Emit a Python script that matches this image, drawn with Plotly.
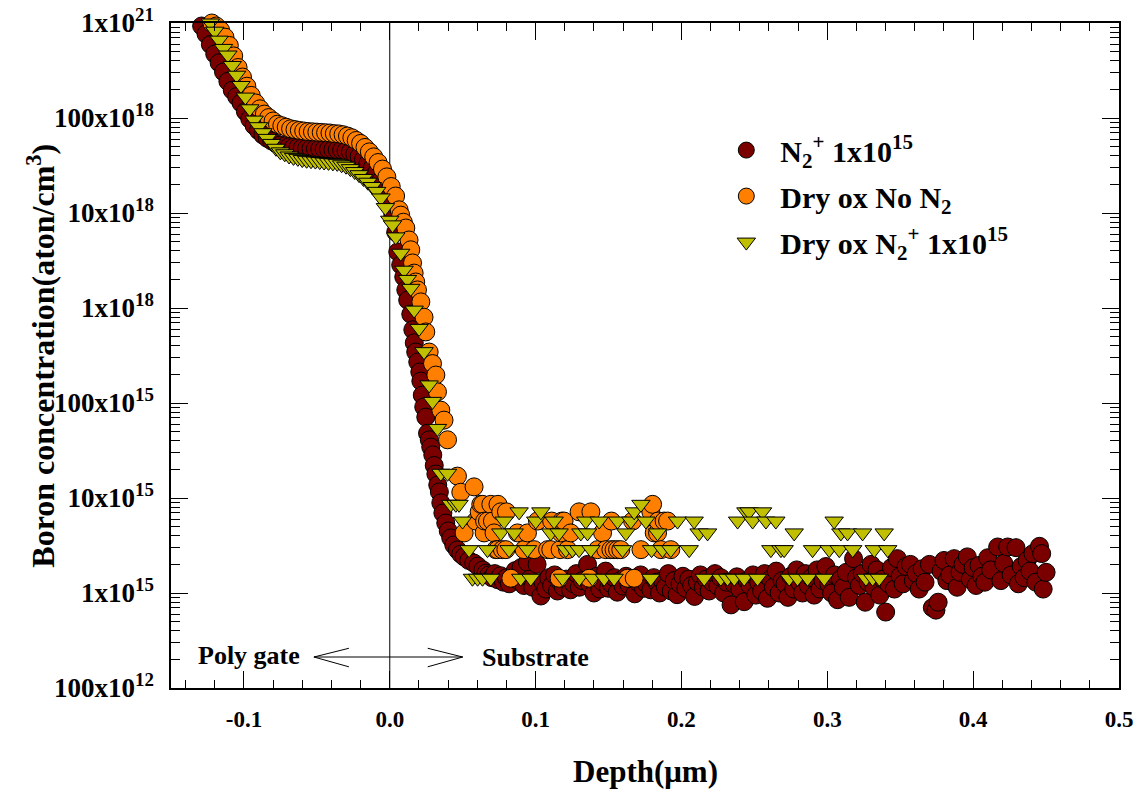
import plotly.graph_objects as go

# ---------------------------------------------------------------------------
# SIMS boron depth profiles (depth in µm, concentration in atoms/cm^3)
# ---------------------------------------------------------------------------

# N2+ 1x10^15 implant
n2_depth = [
    -0.129, -0.126, -0.123, -0.120, -0.117, -0.114, -0.111, -0.108, -0.105, -0.102,
    -0.099, -0.096, -0.093, -0.090, -0.087, -0.084, -0.081, -0.078, -0.075, -0.072,
    -0.069, -0.066, -0.063, -0.060, -0.057, -0.054, -0.051, -0.048, -0.045, -0.042,
    -0.039, -0.036, -0.033, -0.030, -0.027, -0.024, -0.021, -0.018, -0.015, -0.012,
    -0.009, -0.006, -0.003, 0.000,
    0.0021, 0.0041, 0.0055, 0.0075, 0.0096, 0.0110, 0.0123, 0.0144, 0.0158, 0.0168,
    0.0178, 0.0192, 0.0206, 0.0213, 0.0223, 0.0233, 0.0247, 0.0259, 0.0271, 0.0281,
    0.0295, 0.0305, 0.0316, 0.0329, 0.0340, 0.0350, 0.0364, 0.0384, 0.0401, 0.0418,
    0.0439, 0.0464, 0.0487, 0.0510, 0.0542, 0.0576, 0.0604, 0.0638,
    0.066, 0.068, 0.070, 0.072, 0.074, 0.076, 0.078, 0.080, 0.082, 0.084,
    0.086, 0.088, 0.090, 0.092, 0.0944, 0.096, 0.098, 0.101, 0.1036, 0.105,
    0.107, 0.109, 0.111, 0.113, 0.115, 0.117, 0.119, 0.121, 0.124, 0.126,
    0.128, 0.130, 0.132, 0.1356, 0.137, 0.140, 0.142, 0.144, 0.146, 0.148,
    0.150, 0.152, 0.154, 0.156, 0.158, 0.160, 0.162, 0.164, 0.166, 0.168,
    0.170, 0.172, 0.174, 0.176, 0.179, 0.181, 0.183, 0.185, 0.187, 0.189,
    0.191, 0.193, 0.195, 0.197, 0.199, 0.201, 0.203, 0.205, 0.207, 0.209,
    0.211, 0.213, 0.215, 0.217, 0.219, 0.221, 0.223, 0.225, 0.227, 0.229,
    0.231, 0.234, 0.236, 0.238, 0.240, 0.243, 0.245, 0.247, 0.249, 0.251,
    0.253, 0.255, 0.257, 0.259, 0.261, 0.263, 0.265, 0.267, 0.269, 0.271,
    0.273, 0.275, 0.277, 0.279, 0.281, 0.283, 0.285, 0.287, 0.289, 0.291,
    0.293, 0.295, 0.297, 0.299, 0.301, 0.303, 0.305, 0.307, 0.309, 0.311,
    0.313, 0.315, 0.318, 0.320, 0.322, 0.324, 0.326, 0.328, 0.330, 0.332,
    0.334, 0.336, 0.338, 0.340, 0.342, 0.344, 0.346, 0.348, 0.350, 0.352,
    0.354, 0.357, 0.359, 0.361, 0.363, 0.365, 0.367, 0.370, 0.372, 0.3745,
    0.376, 0.378, 0.380, 0.382, 0.384, 0.387, 0.389, 0.391, 0.393, 0.396,
    0.398, 0.400, 0.402, 0.404, 0.406, 0.408, 0.410, 0.412, 0.4168, 0.419,
    0.421, 0.4237, 0.426, 0.4294, 0.431, 0.433, 0.435, 0.437, 0.439, 0.441,
    0.443, 0.4455, 0.447, 0.448, 0.450,
]
n2_conc = [
    9.3e20, 7.66e20, 5.94e20, 4.72e20, 3.81e20, 3.06e20, 2.43e20, 1.96e20, 1.68e20, 1.44e20,
    1.17e20, 9.75e19, 8.3e19, 7.37e19, 6.62e19, 6.11e19, 5.73e19, 5.39e19, 5.2e19, 5.1e19,
    4.99e19, 4.92e19, 4.88e19, 4.83e19, 4.8e19, 4.77e19, 4.75e19, 4.72e19, 4.7e19, 4.68e19,
    4.65e19, 4.62e19, 4.6e19, 4.5e19, 4.4e19, 4.19e19, 3.94e19, 3.66e19, 3.34e19, 2.99e19,
    2.66e19, 2.2e19, 1.75e19, 1.27e19,
    9.5e18, 6.3e18, 3.9e18, 2.84e18, 2.12e18, 1.55e18, 1.21e18, 8.6e17, 5.9e17, 4.3e17,
    3.44e17, 2.7e17, 2.12e17, 1.7e17, 1.21e17, 9.1e16, 7.1e16, 4.8e16, 4.1e16, 3.44e16,
    2.84e16, 2.2e16, 1.79e16, 1.37e16, 1.16e16, 8.9e15, 6.95e15, 5.45e15, 4.5e15, 3.8e15,
    3.2e15, 2.84e15, 2.57e15, 2.4e15, 2.2e15, 2.07e15, 1.92e15, 1.75e15,
    1.62e15, 1.55e15, 1.45e15, 1.6e15, 1.38e15, 1.52e15, 1.3e15, 1.45e15, 1.25e15, 1.5e15,
    1.72e15, 1.35e15, 1.85e15, 1.2e15, 2.1e15, 1.4e15, 1.15e15, 2.0e15, 0.93e15, 1.3e15,
    1.1e15, 1.45e15, 1.2e15, 1.55e15, 1.05e15, 1.3e15, 1.15e15, 1.4e15, 1.08e15, 1.25e15,
    1.6e15, 1.15e15, 1.35e15, 2.0e15, 1.25e15, 1.0e15, 1.5e15, 1.1e15, 1.3e15, 1.7e15,
    1.12e15, 1.25e15, 1.45e15, 1.02e15, 1.35e15, 1.18e15, 1.5e15, 1.22e15, 1.4e15, 0.98e15,
    1.3e15, 1.55e15, 1.12e15, 1.25e15, 1.08e15, 1.45e15, 1.3e15, 1.0e15, 1.35e15, 1.15e15,
    1.6e15, 1.05e15, 1.35e15, 0.96e15, 1.25e15, 1.5e15, 1.12e15, 1.4e15, 1.2e15, 0.92e15,
    1.3e15, 1.55e15, 1.15e15, 1.4e15, 1.05e15, 1.3e15, 1.6e15, 1.18e15, 1.45e15, 1.0e15,
    1.3e15, 0.75e15, 1.25e15, 1.48e15, 1.1e15, 0.81e15, 1.35e15, 1.2e15, 1.55e15, 0.95e15,
    1.3e15, 1.05e15, 1.6e15, 0.88e15, 1.4e15, 1.15e15, 1.7e15, 1.0e15, 1.35e15, 1.25e15,
    0.9e15, 1.5e15, 1.1e15, 1.75e15, 1.3e15, 1.0e15, 1.6e15, 1.2e15, 1.45e15, 0.95e15,
    1.75e15, 1.1e15, 1.35e15, 1.9e15, 1.25e15, 1.0e15, 1.55e15, 0.85e15, 1.4e15, 1.15e15,
    1.65e15, 0.9e15, 2.3e15, 1.45e15, 1.2e15, 1.6e15, 0.8e15, 1.3e15, 2.0e15, 1.15e15,
    1.75e15, 0.95e15, 1.4e15, 0.63e15, 1.25e15, 1.85e15, 1.1e15, 2.3e15, 1.5e15, 1.25e15,
    1.9e15, 2.0e15, 1.35e15, 1.6e15, 1.1e15, 1.8e15, 1.3e15, 2.0e15, 0.7e15, 0.66e15,
    0.8e15, 1.7e15, 2.2e15, 1.35e15, 1.55e15, 2.3e15, 1.15e15, 1.65e15, 2.0e15, 2.4e15,
    1.4e15, 1.85e15, 1.2e15, 1.95e15, 1.5e15, 1.3e15, 2.35e15, 1.75e15, 3.05e15, 1.35e15,
    2.05e15, 3.05e15, 1.55e15, 3.0e15, 1.25e15, 1.9e15, 1.45e15, 2.2e15, 1.7e15, 2.6e15,
    1.3e15, 3.1e15, 2.6e15, 1.1e15, 1.65e15,
]

# Dry oxidation, no N2
dry_depth = [
    -0.122, -0.119, -0.116, -0.113, -0.110, -0.107, -0.104, -0.101, -0.098, -0.095,
    -0.092, -0.089, -0.086, -0.083, -0.080, -0.077, -0.074, -0.071, -0.068, -0.065,
    -0.062, -0.059, -0.056, -0.053, -0.050, -0.047, -0.044, -0.041, -0.038, -0.035,
    -0.032, -0.029, -0.026, -0.023, -0.020, -0.017, -0.014, -0.011, -0.008, -0.005,
    -0.002, 0.001, 0.004,
    0.0064, 0.0075, 0.0093, 0.0110, 0.0132, 0.0144, 0.0156, 0.0167, 0.0178, 0.0190,
    0.0213, 0.0235, 0.0247, 0.0270, 0.0293, 0.0316, 0.0327, 0.0350, 0.0372, 0.0396,
    0.0464, 0.0487, 0.0510, 0.0578, 0.0590, 0.0613, 0.0624, 0.0636, 0.0647, 0.0650,
    0.0670, 0.0693, 0.0704, 0.0715, 0.0727, 0.0739, 0.0742, 0.0761, 0.0772, 0.0796,
    0.0800, 0.0830, 0.0876, 0.0921, 0.0944, 0.0990, 0.1013, 0.1082, 0.1104, 0.1110,
    0.1161, 0.1168, 0.1173, 0.1180, 0.1195, 0.1219, 0.1241, 0.1298, 0.1367, 0.1379,
    0.1425, 0.1459, 0.1481, 0.1516, 0.1520, 0.1538, 0.1562, 0.1584, 0.1630, 0.1665,
    0.1676, 0.1722, 0.1790, 0.1802, 0.1813, 0.1836, 0.1840, 0.1859, 0.1881, 0.1905,
    0.1927,
]
dry_conc = [
    1.0e21, 9.3e20, 8.4e20, 7.1e20, 5.8e20, 4.5e20, 3.4e20, 2.7e20, 2.16e20, 1.73e20,
    1.44e20, 1.25e20, 1.1e20, 1.01e20, 9.3e19, 8.6e19, 8.3e19, 8.0e19, 7.7e19, 7.55e19,
    7.4e19, 7.3e19, 7.2e19, 7.15e19, 7.1e19, 7.05e19, 7.0e19, 6.95e19, 6.85e19, 6.8e19,
    6.67e19, 6.46e19, 6.2e19, 5.8e19, 5.4e19, 4.9e19, 4.4e19, 3.9e19, 3.4e19, 2.9e19,
    2.4e19, 1.9e19, 1.51e19,
    1.08e19, 9.5e18, 8.0e18, 6.95e18, 5.2e18, 4.1e18, 2.98e18, 2.33e18, 1.88e18, 1.55e18,
    1.16e18, 8.0e17, 5.6e17, 3.44e17, 2.6e17, 1.97e17, 1.31e17, 8.4e16, 6.6e16, 4.1e16,
    1.7e16, 1.15e16, 4.29e15, 1.31e16, 5.72e15, 7.15e15, 8.58e15, 8.58e15, 4.29e15, 5.72e15,
    5.72e15, 8.58e15, 5.72e15, 4.29e15, 2.86e15, 2.86e15, 8.58e15, 7.15e15, 2.86e15, 2.86e15,
    7.15e15, 1.43e15, 4.29e15, 2.86e15, 4.29e15, 2.86e15, 5.72e15, 2.86e15, 2.86e15, 5.72e15,
    1.43e15, 2.86e15, 4.29e15, 5.72e15, 5.72e15, 2.86e15, 4.29e15, 7.15e15, 1.43e15, 7.15e15,
    2.86e15, 4.29e15, 2.86e15, 2.86e15, 5.72e15, 2.86e15, 2.86e15, 2.86e15, 1.43e15, 5.72e15,
    1.43e15, 2.86e15, 7.15e15, 8.58e15, 4.29e15, 4.29e15, 5.72e15, 2.86e15, 5.72e15, 5.72e15,
    2.86e15,
]

# Dry oxidation with N2+ 1x10^15 implant
dryn2_depth = [
    -0.123, -0.120, -0.117, -0.114, -0.111, -0.108, -0.105, -0.102, -0.099, -0.096,
    -0.093, -0.090, -0.087, -0.084, -0.081, -0.078, -0.075, -0.072, -0.069, -0.066,
    -0.063, -0.060, -0.057, -0.054, -0.051, -0.048, -0.045, -0.042, -0.039, -0.036,
    -0.033, -0.030, -0.027, -0.024, -0.021, -0.018, -0.015, -0.012, -0.009, -0.006,
    -0.003, 0.000,
    0.0019, 0.0041, 0.0075, 0.0098, 0.0121, 0.0144, 0.0167, 0.0201, 0.0235, 0.0270,
    0.0293, 0.0327, 0.0350, 0.0396,
    0.0418, 0.0453, 0.0475, 0.0499, 0.0544, 0.0567, 0.0602, 0.0636, 0.0670, 0.0693,
    0.0761, 0.0784, 0.0818, 0.0853, 0.0887, 0.0898, 0.0944, 0.0967, 0.1001, 0.1036,
    0.1104, 0.1127, 0.1161, 0.1185, 0.1207, 0.1253, 0.1298, 0.1300, 0.1310, 0.1344,
    0.1356, 0.1379, 0.1390, 0.1436, 0.1470, 0.1538, 0.1562, 0.1596, 0.1619, 0.1653,
    0.1676, 0.1722, 0.1756, 0.1790, 0.1795, 0.1836, 0.1870, 0.1927, 0.1973, 0.2053,
    0.2087, 0.2121, 0.2156, 0.2179, 0.2270, 0.2316, 0.2362, 0.2385, 0.2430, 0.2442,
    0.2464, 0.2488, 0.2522, 0.2556, 0.2579, 0.2613, 0.2647, 0.2682, 0.2704, 0.2739,
    0.2773, 0.2796, 0.2865, 0.2899, 0.2979, 0.3013, 0.3047, 0.3082, 0.3093, 0.3139,
    0.3174, 0.3242, 0.3265, 0.3311, 0.3322, 0.3356, 0.3390, 0.3414,
]
dryn2_conc = [
    1.0e21, 8.2e20, 6.6e20, 5.4e20, 4.6e20, 3.57e20, 2.82e20, 2.2e20, 1.66e20, 1.25e20,
    9.5e19, 8.1e19, 7.0e19, 6.1e19, 5.4e19, 4.8e19, 4.4e19, 4.2e19, 3.98e19, 3.85e19,
    3.76e19, 3.65e19, 3.59e19, 3.55e19, 3.52e19, 3.48e19, 3.44e19, 3.41e19, 3.37e19, 3.33e19,
    3.22e19, 3.11e19, 2.93e19, 2.73e19, 2.53e19, 2.31e19, 2.11e19, 1.9e19, 1.69e19, 1.44e19,
    1.14e19, 8.4e18,
    7.5e18, 5.6e18, 3.77e18, 2.5e18, 2.0e18, 1.61e18, 9.5e17, 6.1e17, 3.47e17, 1.55e17,
    1.04e17, 5.4e16, 1.82e16, 1.82e16,
    8.58e15, 8.58e15, 8.58e15, 5.72e15, 2.86e15, 1.43e15, 1.43e15, 1.43e15, 2.86e15, 1.43e15,
    4.29e15, 5.72e15, 2.86e15, 4.29e15, 7.15e15, 1.43e15, 2.86e15, 1.43e15, 5.72e15, 7.15e15,
    4.29e15, 5.72e15, 4.29e15, 1.43e15, 2.86e15, 2.86e15, 2.86e15, 1.43e15, 4.29e15, 5.72e15,
    4.29e15, 2.86e15, 1.43e15, 5.72e15, 1.43e15, 1.43e15, 5.72e15, 2.86e15, 4.29e15, 5.72e15,
    7.15e15, 8.58e15, 5.72e15, 1.43e15, 2.86e15, 4.29e15, 2.86e15, 2.86e15, 5.72e15, 2.86e15,
    5.72e15, 4.29e15, 1.43e15, 4.29e15, 1.43e15, 1.43e15, 1.43e15, 5.72e15, 1.43e15, 7.15e15,
    7.15e15, 5.72e15, 1.43e15, 7.15e15, 5.72e15, 2.86e15, 5.72e15, 2.86e15, 2.86e15, 1.43e15,
    4.29e15, 1.43e15, 1.43e15, 2.86e15, 1.43e15, 2.86e15, 5.72e15, 2.86e15, 4.29e15, 4.29e15,
    2.86e15, 4.29e15, 1.43e15, 1.43e15, 2.86e15, 1.43e15, 4.29e15, 2.86e15,
]

series_names = [
    "N<sub>2</sub><sup>+</sup> 1x10<sup>15</sup>",
    "Dry ox No N<sub>2</sub>",
    "Dry ox N<sub>2</sub><sup>+</sup> 1x10<sup>15</sup>",
]

# Axis ticks
x_tick_vals = [-0.1, 0.0, 0.1, 0.2, 0.3, 0.4, 0.5]
x_tick_text = ["-0.1", "0.0", "0.1", "0.2", "0.3", "0.4", "0.5"]
y_tick_vals = [1e14, 1e15, 1e16, 1e17, 1e18, 1e19, 1e20, 1e21]
y_tick_text = [
    "100x10<sup>12</sup>", "1x10<sup>15</sup>", "10x10<sup>15</sup>", "100x10<sup>15</sup>",
    "1x10<sup>18</sup>", "10x10<sup>18</sup>", "100x10<sup>18</sup>", "1x10<sup>21</sup>",
]
y_minor_vals = [m * 10.0 ** e for e in range(14, 21) for m in range(2, 10)]

# Double-headed arrow marking the poly-gate / substrate interface region
arrow_x = [-0.028, -0.052, -0.028, None, -0.052, 0.050, None, 0.026, 0.050, 0.026]
arrow_y = [2.62e14, 2.12e14, 1.67e14, None, 2.12e14, 2.12e14, None, 2.62e14, 2.12e14, 1.67e14]

FONT = "Liberation Serif, Times New Roman, serif"

fig = go.Figure()

styles = [
    dict(symbol="circle", size=18, color="#7a0000"),
    dict(symbol="circle", size=18, color="#ff8000"),
    dict(symbol="triangle-down", size=16, color="#c0c000"),
]
for i, (xs, ys) in enumerate([(n2_depth, n2_conc), (dry_depth, dry_conc), (dryn2_depth, dryn2_conc)]):
    st = styles[i]
    fig.add_trace(go.Scatter(
        x=xs, y=ys, mode="markers", name=series_names[i],
        legendgroup=f"g{i}",
        cliponaxis=False,
        marker=dict(symbol=st["symbol"], size=st["size"], color=st["color"],
                    line=dict(color="black", width=1)),
    ))

fig.add_trace(go.Scatter(
    x=arrow_x, y=arrow_y, mode="lines", showlegend=False, hoverinfo="skip",
    line=dict(color="black", width=1),
))

# Interface line at zero depth
fig.add_shape(type="line", xref="x", yref="paper", x0=0, x1=0, y0=0, y1=1,
              line=dict(color="black", width=1), layer="below")

fig.add_annotation(x=-0.0967, y=0.0496, xref="x", yref="paper", text="Poly gate",
                   showarrow=False, font=dict(family=FONT, size=26, color="black", weight="bold"),
                   xanchor="center", yanchor="middle")
fig.add_annotation(x=0.0998, y=0.0466, xref="x", yref="paper", text="Substrate",
                   showarrow=False, font=dict(family=FONT, size=26, color="black", weight="bold"),
                   xanchor="center", yanchor="middle")

# Axis titles
fig.add_annotation(x=-0.138, y=0.5, xref="paper", yref="paper",
                   text="Boron concentration(aton/cm<sup>3</sup>)", textangle=-90,
                   showarrow=False, xanchor="center", yanchor="middle",
                   font=dict(family=FONT, size=32, color="black", weight="bold"))
fig.add_annotation(x=0.5, y=-0.1263, xref="paper", yref="paper",
                   text="Depth(μm)", showarrow=False, xanchor="center", yanchor="middle",
                   font=dict(family=FONT, size=31, color="black", weight="bold"))

fig.update_layout(
    width=1142, height=790,
    margin=dict(l=171, r=23, t=23, b=102, autoexpand=False),
    paper_bgcolor="white", plot_bgcolor="white",
    font=dict(family=FONT, color="black", weight="bold"),
    showlegend=True,
    legend=dict(
        x=0.571, y=0.848, xanchor="left", yanchor="top",
        font=dict(family=FONT, size=30, color="black", weight="bold"),
        bgcolor="rgba(0,0,0,0)", borderwidth=0,
        traceorder="grouped", tracegroupgap=4, itemwidth=58,
    ),
    xaxis=dict(
        range=[-0.15, 0.5], showgrid=False, zeroline=False, automargin=False,
        showline=True, linecolor="black", linewidth=1.5, mirror="allticks",
        ticks="inside", ticklen=17, tickwidth=1, tickcolor="black",
        tickmode="array", tickvals=x_tick_vals, ticktext=x_tick_text,
        tickfont=dict(family=FONT, size=23, color="black", weight="bold"),
        ticklabelstandoff=10,
        minor=dict(ticks="inside", ticklen=8, tickwidth=1, tickcolor="black",
                   tickmode="linear", tick0=0, dtick=0.02),
    ),
    yaxis=dict(
        type="log", range=[14, 21], showgrid=False, zeroline=False, automargin=False,
        showline=True, linecolor="black", linewidth=1.5, mirror="allticks",
        ticks="inside", ticklen=17, tickwidth=1, tickcolor="black",
        tickmode="array", tickvals=y_tick_vals, ticktext=y_tick_text,
        tickfont=dict(family=FONT, size=27, color="black", weight="bold"),
        ticklabelstandoff=10,
        minor=dict(ticks="inside", ticklen=9, tickwidth=1, tickcolor="black",
                   tickmode="array", tickvals=y_minor_vals),
    ),
)

fig.write_html("out.html")
